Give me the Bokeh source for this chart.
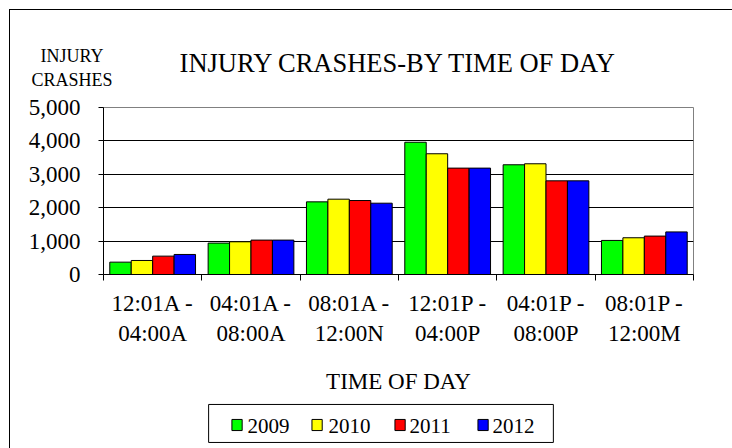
from bokeh.plotting import figure
from bokeh.models import Range1d, FixedTicker, NumeralTickFormatter, Label
from bokeh.embed import file_html
from bokeh.resources import INLINE

title_text = "INJURY CRASHES-BY TIME OF DAY"
y_caption = "INJURY\nCRASHES"
x_caption = "TIME OF DAY"
categories = ["12:01A -\n04:00A", "04:01A -\n08:00A", "08:01A -\n12:00N",
              "12:01P -\n04:00P", "04:01P -\n08:00P", "08:01P -\n12:00M"]
years = ["2009", "2010", "2011", "2012"]
v2009 = [370, 940, 2175, 3960, 3285, 1020]
v2010 = [420, 980, 2255, 3615, 3315, 1100]
v2011 = [550, 1030, 2215, 3185, 2805, 1150]
v2012 = [600, 1030, 2135, 3185, 2805, 1275]
y_ticks = [0, 1000, 2000, 3000, 4000, 5000]
colors = ["#00FF00", "#FFFF00", "#FF0000", "#0000FF"]

FONT = "Liberation Serif"
YMAX = 5000
HAS_PADDING = "padding" in Label.properties()

p = figure(width=732, height=448, frame_width=590, frame_height=167,
           output_backend="svg", toolbar_location=None,
           x_range=Range1d(0, len(categories)), y_range=Range1d(0, YMAX),
           min_border_left=103, min_border_right=39, min_border_top=107, min_border_bottom=174)
p.title = None
p.border_fill_color = None
p.background_fill_color = "white"
p.outline_line_color = "#808080"
p.outline_line_width = 1
p.styles = {"background": "linear-gradient(#000,#000) 9px 9px / 100% 1px no-repeat, "
                          "linear-gradient(#000,#000) 9px 9px / 1px 100% no-repeat"}

series = [v2009, v2010, v2011, v2012]
offsets = [-0.327, -0.109, 0.109, 0.327]
for vals, col, off in zip(series, colors, offsets):
    xs = [i + 0.5 + off for i in range(len(categories))]
    p.vbar(x=xs, top=vals, bottom=0, width=0.218, fill_color=col,
           line_color="black", line_width=1)

# x axis
xa = p.xaxis[0]
xa.ticker = FixedTicker(ticks=[i + 0.5 for i in range(len(categories))],
                        minor_ticks=list(range(len(categories) + 1)))
xa.major_label_overrides = {i + 0.5: c for i, c in enumerate(categories)}
xa.major_tick_out = 0
xa.major_tick_in = 0
xa.minor_tick_out = 6
xa.minor_tick_in = 0
xa.minor_tick_line_color = "black"
xa.axis_line_color = "black"
xa.major_label_text_font = FONT
xa.major_label_text_font_size = "23px"
xa.major_label_text_color = "black"
xa.major_label_standoff = 10
xa.axis_label = x_caption
xa.axis_label_text_font = FONT
xa.axis_label_text_font_size = "23px"
xa.axis_label_text_font_style = "normal"
xa.axis_label_text_color = "black"
xa.axis_label_standoff = 20

# y axis
ya = p.yaxis[0]
ya.ticker = FixedTicker(ticks=y_ticks, minor_ticks=[])
ya.formatter = NumeralTickFormatter(format="0,0")
ya.major_tick_out = 5
ya.major_tick_in = 0
ya.minor_tick_out = 0
ya.minor_tick_in = 0
ya.major_tick_line_color = "black"
ya.axis_line_color = "black"
ya.major_label_text_font = FONT
ya.major_label_text_font_size = "23px"
ya.major_label_text_color = "black"
ya.major_label_standoff = 18

p.xgrid.grid_line_color = None
p.ygrid.ticker = FixedTicker(ticks=y_ticks[1:-1])
p.ygrid.grid_line_color = "black"
p.ygrid.grid_line_width = 1

# title and y caption, placed above the frame in data units of the plot scales
p.add_layout(Label(x=len(categories) / 2, y=YMAX * 1.2636, x_units="data", y_units="data",
                   text=title_text, text_align="center", text_baseline="alphabetic",
                   text_font=FONT, text_font_size="26.5px", text_color="black"), "above")
p.add_layout(Label(x=-0.32, y=YMAX * 1.368, x_units="data", y_units="data",
                   text=y_caption, text_align="center", text_baseline="top",
                   text_font=FONT, text_font_size="18px", text_line_height=1.2,
                   text_color="black"), "above")

# legend below the axis: framed box, coloured keys and year labels
NB = "\u00a0"
box_kw = dict(padding=7) if HAS_PADDING else {}
p.add_layout(Label(x=2.822, y=-YMAX * 0.892, x_units="data", y_units="data",
                   text=NB * 63, text_align="center", text_baseline="middle",
                   text_font=FONT, text_font_size="21px",
                   background_fill_color="white", border_line_color="black",
                   border_line_width=1, **box_kw), "below")
key_x = [1.358, 2.172, 3.016, 3.860]
text_x = [1.464, 2.288, 3.112, 3.956]
key_kw = dict(padding=5) if HAS_PADDING else {}
for kx, col in zip(key_x, colors):
    p.add_layout(Label(x=kx, y=-YMAX * 0.9012, x_units="data", y_units="data",
                       text=NB, text_align="center", text_baseline="middle",
                       text_font=FONT, text_font_size="1px",
                       background_fill_color=col, border_line_color="black",
                       border_line_width=1, **key_kw), "below")
for tx, yr in zip(text_x, years):
    p.add_layout(Label(x=tx, y=-YMAX * 0.9042, x_units="data", y_units="data",
                       text=yr, text_align="left", text_baseline="middle",
                       text_font=FONT, text_font_size="21px", text_color="black"), "below")

open("out.html", "w").write(file_html(p, INLINE))
